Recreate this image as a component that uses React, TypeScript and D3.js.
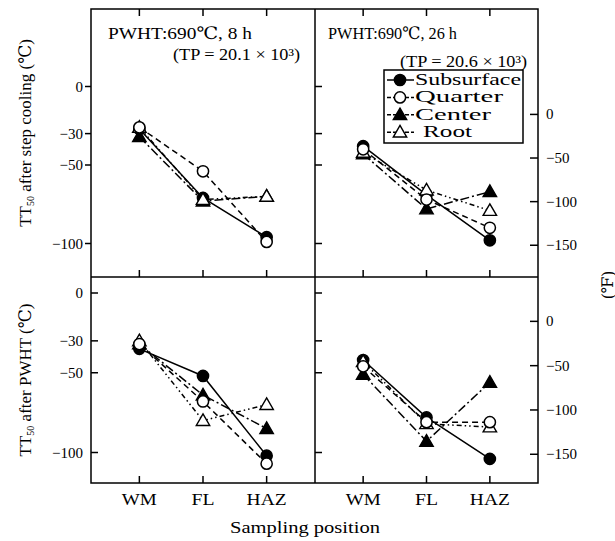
import React from "react";
import * as d3 from "d3";

// Sampling positions along the weld
const positions = ["WM", "FL", "HAZ"];
const seriesNames = ["Subsurface", "Quarter", "Center", "Root"];

// TT50 (°C) after step cooling, PWHT 690°C x 8 h
const step8Subsurface = [-27, -71, -96];
const step8Quarter = [-26, -54, -99];
const step8Center = [-32, -73, -70];
const step8Root = [-26, -72, -70];

// TT50 (°C) after step cooling, PWHT 690°C x 26 h
const step26Subsurface = [-38, -69, -98];
const step26Quarter = [-40, -72, -90];
const step26Center = [-43, -78, -67];
const step26Root = [-42, -66, -79];

// TT50 (°C) after PWHT 690°C x 8 h
const pwht8Subsurface = [-35, -52, -102];
const pwht8Quarter = [-32, -68, -107];
const pwht8Center = [-32, -64, -85];
const pwht8Root = [-30, -80, -70];

// TT50 (°C) after PWHT 690°C x 26 h
const pwht26Subsurface = [-42, -78, -104];
const pwht26Quarter = [-46, -81, -81];
const pwht26Center = [-51, -93, -56];
const pwht26Root = [-43, -82, -84];

const celsiusTicks = [0, -30, -50, -100];
const fahrenheitTicks = [0, -50, -100, -150];

const panelTitles = ["PWHT:690℃, 8 h", "PWHT:690℃, 26 h"];
const panelParams = ["(TP = 20.1 × 10³)", "(TP = 20.6 × 10³)"];

const FONT = "'Liberation Serif', 'Times New Roman', 'DejaVu Serif', serif";

// frame geometry
const X0 = 91, XM = 315, X1 = 538;
const Y0 = 9, YM = 277, Y1 = 483;

const xLeft = d3.scalePoint<string>().domain(positions).range([X0, XM]).padding(0.76);
const xRight = d3.scalePoint<string>().domain(positions).range([XM, X1]).padding(0.76);
const yTop = d3.scaleLinear().domain([-100, 0]).range([243.5, 86.5]);
const yBottom = d3.scaleLinear().domain([-100, 0]).range([452.5, 293]);

const fToC = (f: number) => (f - 32) / 1.8;

type Style = { dash?: string; marker: "circle" | "triangle"; fill: string };
const styles: Record<string, Style> = {
  Subsurface: { marker: "circle", fill: "#000" },
  Quarter: { dash: "6,4", marker: "circle", fill: "#fff" },
  Center: { dash: "9,3,2,3", marker: "triangle", fill: "#000" },
  Root: { dash: "5,3,1.5,3,1.5,3", marker: "triangle", fill: "#fff" },
};
const lineOrder = ["Root", "Center", "Quarter", "Subsurface"];
const markerOrder = ["Subsurface", "Center", "Root", "Quarter"];

const triPath = d3.symbol().type(d3.symbolTriangle).size(78)() as string;

function Marker({ name, x, y }: { name: string; x: number; y: number }) {
  const s = styles[name];
  if (s.marker === "circle") {
    return <circle cx={x} cy={y} r={5.6} fill={s.fill} stroke="#000" strokeWidth={1.5} />;
  }
  return (
    <path d={triPath} transform={`translate(${x},${y + 1})`} fill={s.fill} stroke="#000" strokeWidth={1.4} />
  );
}

function Txt(props: {
  x: number; y: number; text: string; size: number; anchor?: string; len?: number; rotate?: number;
}) {
  const { x, y, text, size, anchor = "start", len, rotate } = props;
  return (
    <text
      x={x}
      y={y}
      fontSize={size}
      fontFamily={FONT}
      textAnchor={anchor}
      fill="#000"
      textLength={len}
      lengthAdjust={len ? "spacingAndGlyphs" : undefined}
      transform={rotate ? `rotate(${rotate},${x},${y})` : undefined}
    >
      {text}
    </text>
  );
}

function Panel({
  x, y, series,
}: {
  x: d3.ScalePoint<string>;
  y: d3.ScaleLinear<number, number>;
  series: Record<string, number[]>;
}) {
  const line = d3
    .line<number>()
    .x((_, i) => x(positions[i]) as number)
    .y((v) => y(v));
  return (
    <g>
      {lineOrder.map((n) => (
        <path
          key={n}
          d={line(series[n]) as string}
          fill="none"
          stroke="#000"
          strokeWidth={1.5}
          strokeDasharray={styles[n].dash}
        />
      ))}
      {markerOrder.map((n) =>
        series[n].map((v, i) => (
          <Marker key={n + i} name={n} x={x(positions[i]) as number} y={y(v)} />
        ))
      )}
    </g>
  );
}

export default function App() {
  const panels = [
    { x: xLeft, y: yTop, series: { Subsurface: step8Subsurface, Quarter: step8Quarter, Center: step8Center, Root: step8Root } },
    { x: xRight, y: yTop, series: { Subsurface: step26Subsurface, Quarter: step26Quarter, Center: step26Center, Root: step26Root } },
    { x: xLeft, y: yBottom, series: { Subsurface: pwht8Subsurface, Quarter: pwht8Quarter, Center: pwht8Center, Root: pwht8Root } },
    { x: xRight, y: yBottom, series: { Subsurface: pwht26Subsurface, Quarter: pwht26Quarter, Center: pwht26Center, Root: pwht26Root } },
  ];

  const legendX = 384, legendY = 70, legendW = 139, legendRow = 17.4;
  const ink = { stroke: "#000", strokeWidth: 1.5 };

  return (
    <svg
      width={615}
      height={541}
      style={{ position: "absolute", left: 0, top: 0, background: "#fff" }}
    >
      <rect x={0} y={0} width={615} height={541} fill="#fff" />

      {/* frame */}
      <rect x={X0} y={Y0} width={X1 - X0} height={Y1 - Y0} fill="none" {...ink} />
      <line x1={X0} x2={X1} y1={YM} y2={YM} {...ink} />
      <line x1={XM} x2={XM} y1={Y0} y2={Y1} {...ink} />

      {/* x ticks: top edge, divider, bottom edge */}
      {[xLeft, xRight].map((xs, k) =>
        positions.map((p) => {
          const px = xs(p) as number;
          return (
            <g key={`xt${k}${p}`}>
              <line x1={px} x2={px} y1={Y0} y2={Y0 + 7} {...ink} />
              <line x1={px} x2={px} y1={YM} y2={YM - 7} {...ink} />
              <line x1={px} x2={px} y1={Y1} y2={Y1 - 7} {...ink} />
            </g>
          );
        })
      )}

      {/* °C ticks */}
      {celsiusTicks.map((t) => (
        <g key={`ct${t}`}>
          <line x1={X0} x2={X0 - 6} y1={yTop(t)} y2={yTop(t)} {...ink} />
          <line x1={XM} x2={XM + 7} y1={yTop(t)} y2={yTop(t)} {...ink} />
          <Txt x={83} y={yTop(t) + 5} text={t === 0 ? "0" : `−${-t}`} size={15} anchor="end" />
          <line x1={X0} x2={X0 + 7} y1={yBottom(t)} y2={yBottom(t)} {...ink} />
          <line x1={XM} x2={XM + 7} y1={yBottom(t)} y2={yBottom(t)} {...ink} />
          <Txt x={83} y={yBottom(t) + 5} text={t === 0 ? "0" : `−${-t}`} size={15} anchor="end" />
        </g>
      ))}

      {/* °F ticks on the right edge */}
      {[yTop, yBottom].map((ys, k) =>
        fahrenheitTicks.map((f) => {
          const py = ys(fToC(f));
          return (
            <g key={`ft${k}${f}`}>
              <line x1={X1} x2={X1 - 8} y1={py} y2={py} {...ink} />
              <Txt x={546} y={py + 5} text={f === 0 ? "0" : `−${-f}`} size={15} />
            </g>
          );
        })
      )}

      {/* series */}
      {panels.map((p, i) => (
        <Panel key={i} x={p.x} y={p.y} series={p.series} />
      ))}

      {/* panel annotations */}
      <Txt x={108} y={39} text={panelTitles[0]} size={17} len={144} />
      <Txt x={173} y={60} text={panelParams[0]} size={16} len={127} />
      <Txt x={328} y={39} text={panelTitles[1]} size={17} len={129} />
      <Txt x={400} y={67} text={panelParams[1]} size={16} len={127} />

      {/* legend */}
      <rect x={legendX} y={legendY} width={legendW} height={73} fill="#fff" {...ink} />
      {seriesNames.map((n, i) => {
        const ry = legendY + 10 + i * legendRow;
        return (
          <g key={n}>
            <line x1={legendX + 3} x2={legendX + 30} y1={ry} y2={ry} stroke="#000" strokeWidth={1.5} strokeDasharray={styles[n].dash ? "4,2" : undefined} />
            <Marker name={n} x={legendX + 16} y={ry} />
            <Txt
              x={n === "Root" ? legendX + 39 : legendX + 31}
              y={ry + 5}
              text={n}
              size={16}
              len={[106, 88, 76, 49][i]}
            />
          </g>
        );
      })}

      {/* x category labels */}
      {[xLeft, xRight].map((xs, k) =>
        positions.map((p) => (
          <Txt key={`xl${k}${p}`} x={xs(p) as number} y={505} text={p} size={17} anchor="middle" len={[35, 23, 40][positions.indexOf(p)]} />
        ))
      )}
      <Txt x={305} y={533} text="Sampling position" size={16} anchor="middle" len={150} />

      {/* axis titles */}
      <text
        x={0}
        y={0}
        fontSize={17}
        fontFamily={FONT}
        textAnchor="middle"
        transform={`translate(31,133) rotate(-90)`}
      >
        TT<tspan fontSize={10} dy={3}>50</tspan>
        <tspan dy={-3}> after step cooling (℃)</tspan>
      </text>
      <text
        x={0}
        y={0}
        fontSize={17}
        fontFamily={FONT}
        textAnchor="middle"
        transform={`translate(31,380) rotate(-90)`}
      >
        TT<tspan fontSize={10} dy={3}>50</tspan>
        <tspan dy={-3}> after PWHT (℃)</tspan>
      </text>
      <text
        x={0}
        y={0}
        fontSize={16}
        fontFamily={FONT}
        textAnchor="middle"
        transform={`translate(613,285) rotate(-90)`}
      >
        (℉)
      </text>
    </svg>
  );
}
